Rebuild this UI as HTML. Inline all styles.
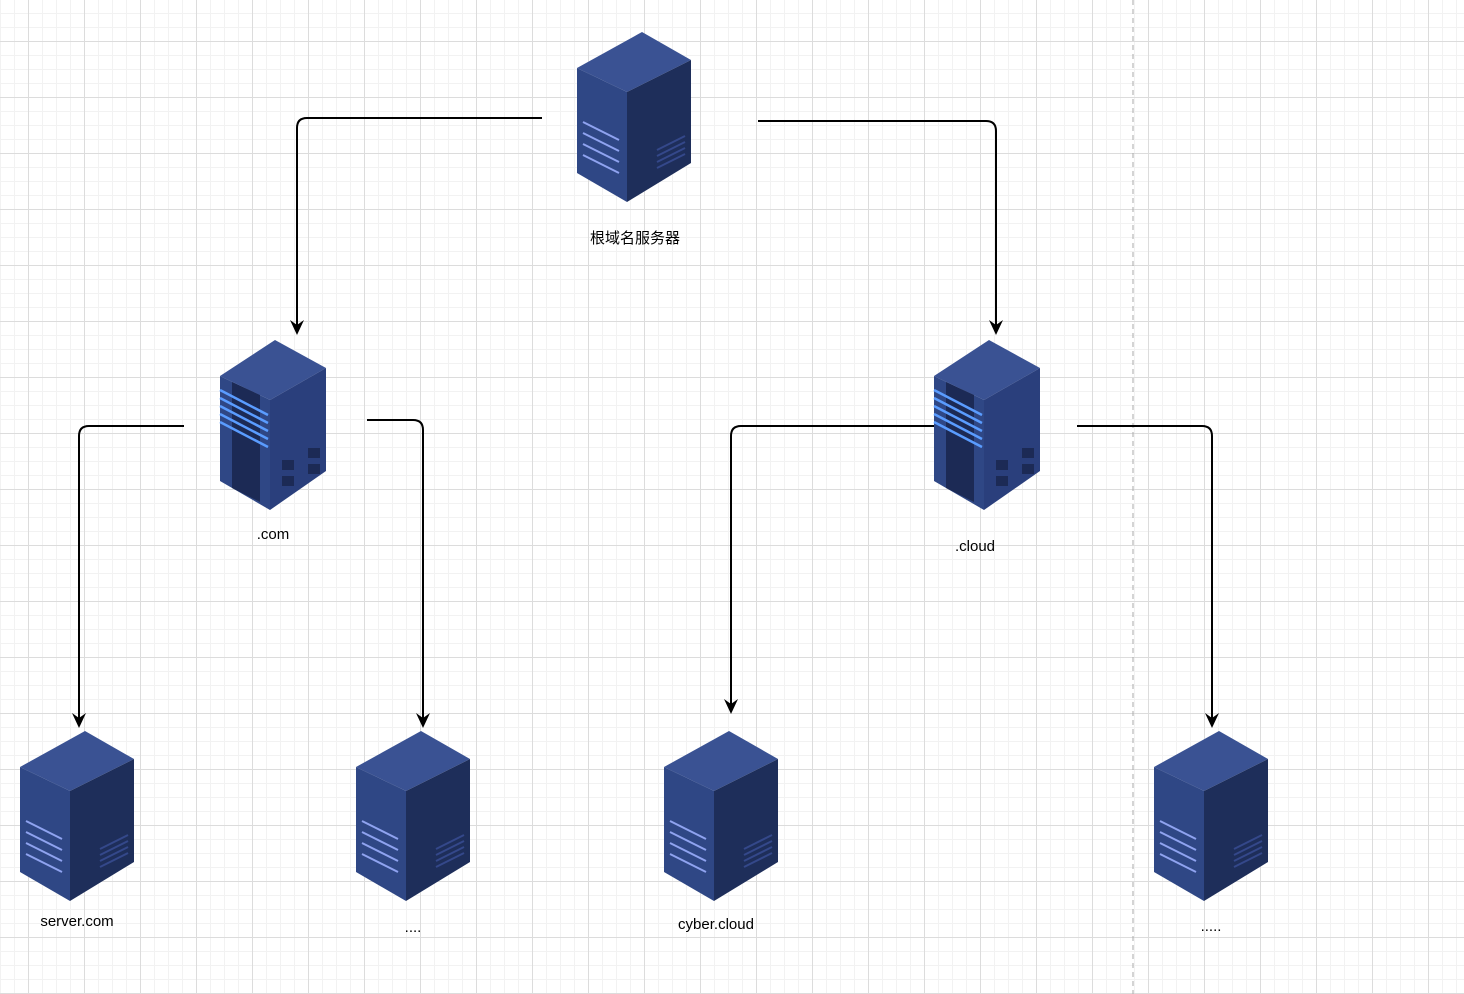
<!DOCTYPE html><html><head><style>body{margin:0;width:1464px;height:994px;overflow:hidden;background:#fff;
background-image:linear-gradient(#dcdcdc 1px,transparent 1px),linear-gradient(90deg,#dcdcdc 1px,transparent 1px),linear-gradient(#f2f2f2 1px,transparent 1px),linear-gradient(90deg,#f2f2f2 1px,transparent 1px);
background-size:56px 56px,56px 56px,14px 14px,14px 14px;background-position:0 41px,28px 0,0 41px,28px 0;font-family:"Liberation Sans","Noto Sans CJK SC",sans-serif}
</style></head><body>
<svg width="1464" height="994" style="position:absolute;left:0;top:0">
<defs>
<g id="A">
<polygon points="65,0 114,28 50,60 0,36" fill="#3a5293"/>
<polygon points="0,36 50,60 50,170 0,141" fill="#2f4785"/>
<polygon points="50,60 114,28 114,131 50,170" fill="#1e2e5a"/>
<g stroke="#8fa3f0" stroke-width="2"><line x1="6" y1="90" x2="42" y2="108"/><line x1="6" y1="101" x2="42" y2="119"/><line x1="6" y1="112" x2="42" y2="130"/><line x1="6" y1="123" x2="42" y2="141"/></g>
<g stroke="#34488a" stroke-width="2"><line x1="80" y1="118" x2="108" y2="104"/><line x1="80" y1="124" x2="108" y2="110"/><line x1="80" y1="130" x2="108" y2="116"/><line x1="80" y1="136" x2="108" y2="122"/></g>
</g>
<g id="B">
<polygon points="55,0 106,28 50,60 0,36" fill="#3a5293"/>
<polygon points="0,36 50,60 50,170 0,141" fill="#2f4785"/>
<polygon points="50,60 106,28 106,131 50,170" fill="#2a3f7c"/>
<polygon points="12,42 40,55 40,162 12,148" fill="#1c2a55"/>
<g stroke="#5a9cff" stroke-width="2.5"><line x1="0" y1="50" x2="48" y2="75"/><line x1="0" y1="58" x2="48" y2="83"/><line x1="0" y1="66" x2="48" y2="91"/><line x1="0" y1="74" x2="48" y2="99"/><line x1="0" y1="82" x2="48" y2="107"/></g>
<g fill="#1c2a55"><rect x="62" y="120" width="12" height="10"/><rect x="62" y="136" width="12" height="10"/><rect x="88" y="108" width="12" height="10"/><rect x="88" y="124" width="12" height="10"/></g>
</g>
<path id="h" d="M0,0 L-7,-15 L0,-10 L7,-15 Z" fill="#000"/>
</defs>
<line x1="1133" y1="0" x2="1133" y2="994" stroke="#aaa" stroke-dasharray="5,4"/>
<g fill="none" stroke="#000" stroke-width="2">
<path d="M542,118 H307 Q297,118 297,128 V325"/>
<path d="M758,121 H986 Q996,121 996,131 V325"/>
<path d="M184,426 H89 Q79,426 79,436 V718"/>
<path d="M367,420 H413 Q423,420 423,430 V718"/>
<path d="M940,426 H741 Q731,426 731,436 V704"/>
<path d="M1077,426 H1202 Q1212,426 1212,436 V718"/>
</g>
<use href="#h" x="297" y="335"/>
<use href="#h" x="996" y="335"/>
<use href="#h" x="79" y="728"/>
<use href="#h" x="423" y="728"/>
<use href="#h" x="731" y="714"/>
<use href="#h" x="1212" y="728"/>
<use href="#A" x="577" y="32"/>
<use href="#A" x="20" y="731"/>
<use href="#A" x="356" y="731"/>
<use href="#A" x="664" y="731"/>
<use href="#A" x="1154" y="731"/>
<use href="#B" x="220" y="340"/>
<use href="#B" x="934" y="340"/>
<g font-size="15" text-anchor="middle" fill="#000" font-family="Liberation Sans, Noto Sans CJK SC, sans-serif">
<text x="635" y="243">根域名服务器</text>
<text x="273" y="539">.com</text>
<text x="975" y="551">.cloud</text>
<text x="77" y="926">server.com</text>
<text x="413" y="932">....</text>
<text x="716" y="929">cyber.cloud</text>
<text x="1211" y="931">.....</text>
</g>
</svg>
</body></html>
